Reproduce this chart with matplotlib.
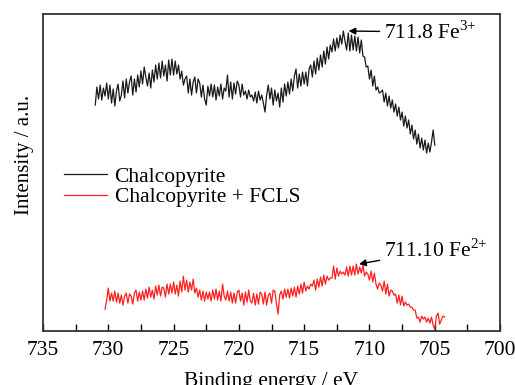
import numpy as np
import matplotlib
matplotlib.use("Agg")
import matplotlib.pyplot as plt

plt.rcParams["font.family"] = ["Liberation Serif", "DejaVu Serif"]
plt.rcParams["mathtext.fontset"] = "custom"
plt.rcParams["mathtext.rm"] = "Liberation Serif"

# binding energy grids (eV), 0.125 eV steps
be_chalco = np.linspace(731.0, 705.0, 209)
be_fcls = np.linspace(730.25, 704.25, 209)

# intensity (a.u.), one row per eV
int_chalco = [
    226, 244, 232, 246, 231, 243, 235, 248,
    232, 246, 228, 242, 225, 240, 247, 230,
    236, 250, 233, 252, 238, 249, 255, 236,
    252, 239, 256, 244, 260, 247, 264, 254,
    245, 258, 243, 261, 249, 266, 252, 268,
    253, 270, 255, 266, 250, 271, 256, 272,
    256, 270, 257, 266, 252, 260, 246, 252,
    255, 238, 252, 236, 249, 254, 238, 252,
    248, 234, 246, 232, 226, 245, 235, 247,
    234, 246, 231, 244, 235, 247, 232, 243,
    240, 256, 234, 249, 232, 248, 237, 250,
    246, 234, 247, 236, 240, 232, 241, 234,
    236, 230, 239, 228, 240, 231, 236, 228,
    219, 236, 246, 232, 243, 226, 241, 230,
    238, 224, 243, 229, 247, 235, 249, 237,
    252, 240, 255, 262, 243, 257, 245, 259,
    247, 259, 245, 262, 266, 254, 270, 257,
    273, 261, 276, 264, 280, 267, 284, 272,
    286, 279, 292, 280, 293, 283, 296, 287,
    300, 290, 281, 298, 280, 296, 281, 295,
    280, 294, 278, 291, 275, 274, 264, 265,
    252, 261, 245, 255, 241, 244, 238, 239,
    241, 229, 238, 225, 235, 223, 231, 219,
    227, 215, 224, 211, 219, 205, 215, 203,
    211, 197, 206, 192, 201, 187, 197, 183,
    193, 181, 191, 178, 188, 179, 189, 201,
    186,
]
int_fcls = [
    22, 31, 43, 30, 38, 30, 40, 29,
    38, 28, 36, 26, 35, 38, 28, 37,
    35, 27, 38, 41, 30, 39, 31, 40,
    31, 42, 33, 44, 34, 41, 32, 45,
    36, 46, 35, 44, 43, 34, 47, 37,
    47, 38, 49, 37, 46, 35, 50, 39,
    55, 41, 51, 39, 49, 41, 52, 38,
    43, 34, 41, 31, 40, 30, 39, 32,
    39, 30, 41, 32, 42, 31, 40, 30,
    47, 35, 31, 40, 30, 39, 28, 38,
    28, 39, 41, 30, 38, 26, 39, 29,
    41, 30, 28, 38, 26, 37, 27, 39,
    37, 27, 39, 26, 36, 38, 28, 41,
    40, 28, 17, 36, 40, 32, 42, 34,
    42, 33, 43, 35, 44, 34, 45, 37,
    47, 38, 49, 40, 45, 42, 47, 45,
    51, 41, 52, 44, 54, 45, 56, 47,
    55, 51, 53, 53, 65, 52, 63, 55,
    60, 57, 59, 56, 64, 55, 65, 56,
    65, 56, 67, 57, 64, 58, 66, 55,
    59, 57, 51, 60, 49, 58, 47, 42,
    48, 46, 40, 50, 37, 47, 35, 41,
    40, 36, 37, 28, 36, 26, 35, 25,
    29, 26, 27, 24, 24, 21, 21, 13,
    14, 9, 15, 12, 14, 9, 13, 8,
    14, 6, 2, 15, 18, 7, 11, 15,
    14,
]

fig = plt.figure(figsize=(5.15, 3.85), dpi=100)
ax = fig.add_axes([0.0835, 0.140, 0.8875, 0.8236])

ax.plot(be_chalco, int_chalco, color="#1a1a1a", lw=0.9, label="Chalcopyrite")
ax.plot(be_fcls, int_fcls, color="#ff2020", lw=0.9, label="Chalcopyrite + FCLS")

ax.set_xlim(735, 700)
ax.set_ylim(0, 317)
ax.set_xticks(np.arange(735, 699, -5))
ax.set_xticks(np.arange(732.5, 700, -5), minor=True)
ax.set_yticks([])
ax.tick_params(axis="x", which="both", direction="in", length=5, width=1,
               labelsize=15.5, pad=7, top=False)
for s in ax.spines.values():
    s.set_linewidth(1.3)
    s.set_color("#333333")

ax.set_xlabel("Binding energy / eV", fontsize=15.5, labelpad=9)
ax.set_ylabel("Intensity / a.u.", fontsize=15)
ax.yaxis.set_label_coords(-0.02, 0.555)

ax.annotate("711.8 Fe$^{3{+}}$", xy=(711.6, 300), xytext=(708.9, 299),
            fontsize=15.5, va="center",
            arrowprops=dict(arrowstyle="-|>", color="black", lw=1,
                            mutation_scale=10, shrinkA=1, shrinkB=0))
ax.annotate("711.10 Fe$^{2{+}}$", xy=(710.8, 67), xytext=(708.9, 81),
            fontsize=15.5, va="center",
            arrowprops=dict(arrowstyle="-|>", color="black", lw=1,
                            mutation_scale=10, shrinkA=1, shrinkB=0))

ax.legend(loc="upper left", bbox_to_anchor=(0.027, 0.545), frameon=False,
          fontsize=15.5, handlelength=2.0, handletextpad=0.35,
          labelspacing=0.0, borderaxespad=0)

fig.savefig("out.png", dpi=100)
